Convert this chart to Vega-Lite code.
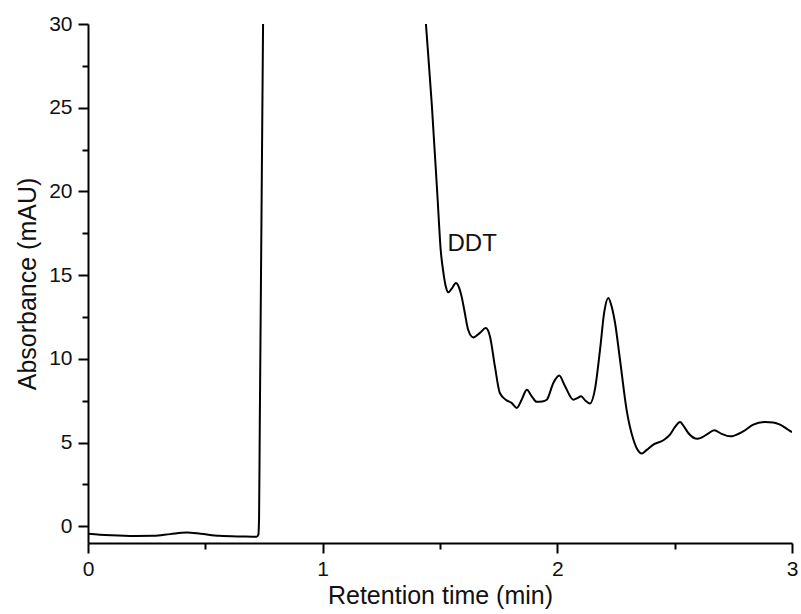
{
  "$schema": "https://vega.github.io/schema/vega-lite/v6.json",
  "width": 704,
  "height": 519,
  "autosize": "none",
  "padding": {"left": 88, "top": 24, "right": 9, "bottom": 71},
  "background": "white",
  "config": {
    "view": {"stroke": null},
    "font": "Liberation Sans",
    "axis": {
      "grid": false,
      "domainColor": "black",
      "domainWidth": 2,
      "tickColor": "black",
      "tickWidth": 2,
      "labelFont": "Liberation Sans",
      "labelFontSize": 21,
      "labelColor": "#111",
      "labelFlush": false,
      "titleFont": "Liberation Sans",
      "titleFontSize": 25,
      "titleFontWeight": "normal",
      "titleColor": "#111"
    }
  },
  "datasets": {
    "trace": [
      {"t": 0.0, "a": -0.44},
      {"t": 0.05, "a": -0.5},
      {"t": 0.1, "a": -0.54},
      {"t": 0.2, "a": -0.58},
      {"t": 0.28, "a": -0.57},
      {"t": 0.35, "a": -0.47},
      {"t": 0.42, "a": -0.38},
      {"t": 0.48, "a": -0.45},
      {"t": 0.56, "a": -0.57},
      {"t": 0.65, "a": -0.61},
      {"t": 0.7, "a": -0.62},
      {"t": 0.718, "a": -0.63},
      {"t": 0.726, "a": -0.5},
      {"t": 0.729, "a": 0.5},
      {"t": 0.732, "a": 6},
      {"t": 0.739, "a": 18},
      {"t": 0.746, "a": 30},
      {"t": 0.75, "a": 36},
      {"t": 1.42, "a": 34},
      {"t": 1.44, "a": 30},
      {"t": 1.465, "a": 25.2},
      {"t": 1.49, "a": 19.5},
      {"t": 1.503, "a": 16.5},
      {"t": 1.514, "a": 15.2},
      {"t": 1.525, "a": 14.3},
      {"t": 1.535, "a": 13.97},
      {"t": 1.55, "a": 14.2},
      {"t": 1.568, "a": 14.53},
      {"t": 1.58, "a": 14.3},
      {"t": 1.592, "a": 13.73},
      {"t": 1.605, "a": 12.8},
      {"t": 1.62, "a": 11.74},
      {"t": 1.642, "a": 11.28},
      {"t": 1.67, "a": 11.55},
      {"t": 1.695, "a": 11.84},
      {"t": 1.713, "a": 11.34},
      {"t": 1.734, "a": 9.55},
      {"t": 1.755, "a": 7.96},
      {"t": 1.784, "a": 7.52},
      {"t": 1.805, "a": 7.37},
      {"t": 1.827, "a": 7.07},
      {"t": 1.848, "a": 7.56},
      {"t": 1.87, "a": 8.16},
      {"t": 1.891, "a": 7.76},
      {"t": 1.912, "a": 7.43},
      {"t": 1.935, "a": 7.45},
      {"t": 1.955, "a": 7.56},
      {"t": 1.983, "a": 8.56},
      {"t": 2.008, "a": 9.0},
      {"t": 2.033, "a": 8.36},
      {"t": 2.068, "a": 7.56},
      {"t": 2.085, "a": 7.65},
      {"t": 2.101, "a": 7.76},
      {"t": 2.12, "a": 7.5},
      {"t": 2.139, "a": 7.33},
      {"t": 2.16, "a": 8.16},
      {"t": 2.182, "a": 10.55},
      {"t": 2.2, "a": 12.8},
      {"t": 2.217, "a": 13.64},
      {"t": 2.232, "a": 13.1},
      {"t": 2.246, "a": 12.14},
      {"t": 2.267, "a": 9.95},
      {"t": 2.295, "a": 6.97},
      {"t": 2.324, "a": 5.18},
      {"t": 2.345, "a": 4.5},
      {"t": 2.359, "a": 4.34},
      {"t": 2.38, "a": 4.55},
      {"t": 2.409, "a": 4.88},
      {"t": 2.452, "a": 5.14},
      {"t": 2.48, "a": 5.47},
      {"t": 2.5, "a": 5.9},
      {"t": 2.523, "a": 6.23},
      {"t": 2.54, "a": 5.95},
      {"t": 2.558, "a": 5.57},
      {"t": 2.598, "a": 5.22},
      {"t": 2.636, "a": 5.47},
      {"t": 2.669, "a": 5.73},
      {"t": 2.7, "a": 5.52},
      {"t": 2.736, "a": 5.37},
      {"t": 2.792, "a": 5.67},
      {"t": 2.835, "a": 6.07},
      {"t": 2.885, "a": 6.23},
      {"t": 2.92, "a": 6.2},
      {"t": 2.949, "a": 6.07},
      {"t": 2.975, "a": 5.85},
      {"t": 3.0, "a": 5.62}
    ],
    "labels": [{"name": "DDT", "t": 1.532, "a": 16.42}]
  },
  "layer": [
    {
      "data": {"name": "trace"},
      "mark": {"type": "line", "color": "black", "strokeWidth": 2, "interpolate": "monotone", "clip": true},
      "encoding": {
        "x": {
          "field": "t",
          "type": "quantitative",
          "scale": {"domain": [0, 3], "nice": false, "zero": false},
          "axis": {
            "title": "Retention time (min)",
            "values": [0, 0.5, 1, 1.5, 2, 2.5, 3],
            "labelExpr": "datum.value % 1 === 0 ? format(datum.value, 'd') : ''",
            "tickSize": {"condition": {"test": "datum.value % 1 === 0", "value": 10}, "value": 6},
            "labelPadding": 5,
            "titlePadding": 4
          }
        },
        "y": {
          "field": "a",
          "type": "quantitative",
          "scale": {"domain": [-1, 30], "nice": false, "zero": false},
          "axis": {
            "title": "Absorbance (mAU)",
            "values": [0, 2.5, 5, 7.5, 10, 12.5, 15, 17.5, 20, 22.5, 25, 27.5, 30],
            "labelExpr": "datum.value % 5 === 0 ? format(datum.value, 'd') : ''",
            "tickSize": {"condition": {"test": "datum.value % 5 === 0", "value": 10}, "value": 6},
            "labelPadding": 6,
            "titlePadding": 8
          }
        }
      }
    },
    {
      "data": {"name": "labels"},
      "mark": {"type": "text", "align": "left", "baseline": "alphabetic", "fontSize": 24, "font": "Liberation Sans", "color": "#111"},
      "encoding": {
        "x": {"field": "t", "type": "quantitative"},
        "y": {"field": "a", "type": "quantitative"},
        "text": {"field": "name"}
      }
    }
  ]
}
